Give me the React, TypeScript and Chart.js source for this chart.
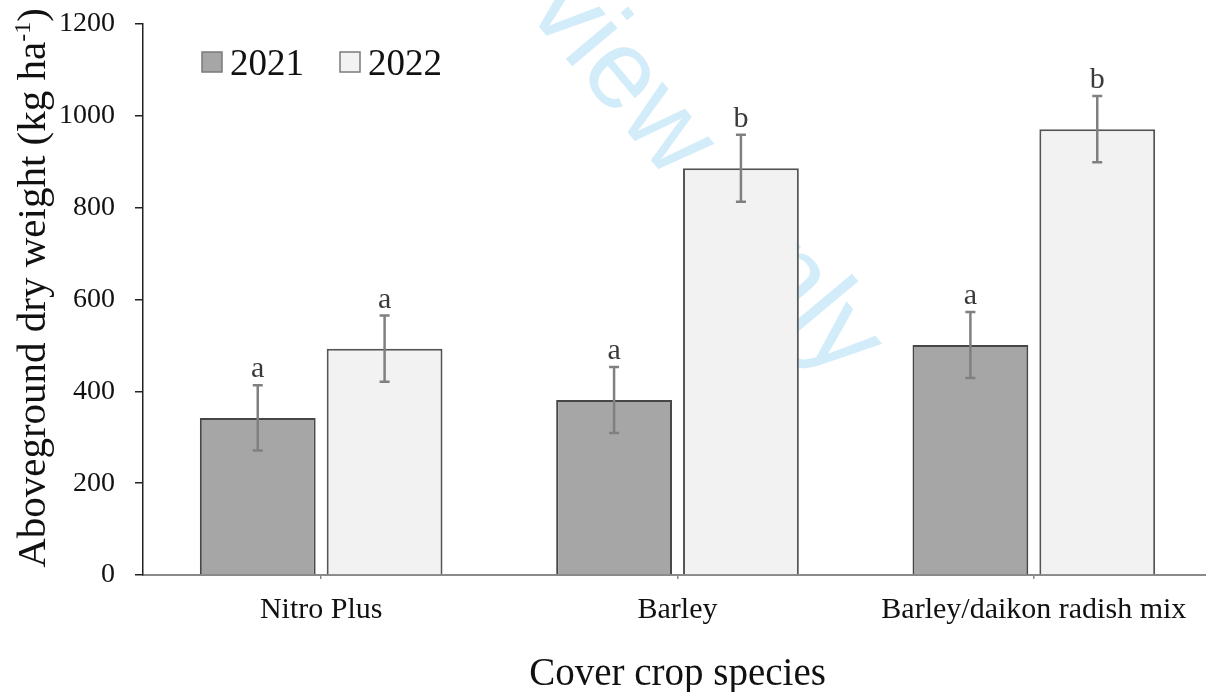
import React, { useEffect, useRef } from 'react';
import { Chart, registerables } from 'chart.js';

Chart.register(...registerables);

// ---- data ----
const categories = ['Nitro Plus', 'Barley', 'Barley/daikon radish mix'];
const seriesLabels = ['2021', '2022'];
const values2021 = [342, 381, 501];
const values2022 = [493, 886, 971];
const errors2021 = [71, 72, 72];
const errors2022 = [72, 73, 72];
const letters2021 = ['a', 'a', 'a'];
const letters2022 = ['a', 'b', 'b'];
const yMin = 0;
const yMax = 1200;
const yStep = 200;
const xTitle = 'Cover crop species';
const yTitleMain = 'Aboveground dry weight (kg ha';
const yTitleSup = '-1';
const yTitleEnd = ')';
const watermark = 'For Review Only';

const SERIF = '"Liberation Serif", "Times New Roman", serif';
const SANS = '"Liberation Sans", Arial, sans-serif';

const fills = ['#a6a6a6', '#f2f2f2'];
const borders = ['#474747', '#555555'];

const errorPlugin = {
  id: 'errorBars',
  afterDatasetsDraw(chart: any) {
    const ctx = chart.ctx;
    const ys = chart.scales.y;
    chart.data.datasets.forEach((ds: any, di: number) => {
      const meta = chart.getDatasetMeta(di);
      meta.data.forEach((bar: any, i: number) => {
        const v = ds.data[i];
        const e = ds.errors[i];
        const yt = ys.getPixelForValue(v + e);
        const yb = ys.getPixelForValue(v - e);
        ctx.save();
        ctx.strokeStyle = '#808080';
        ctx.lineWidth = 2.5;
        ctx.beginPath();
        ctx.moveTo(bar.x, yt);
        ctx.lineTo(bar.x, yb);
        ctx.moveTo(bar.x - 5, yt);
        ctx.lineTo(bar.x + 5, yt);
        ctx.moveTo(bar.x - 5, yb);
        ctx.lineTo(bar.x + 5, yb);
        ctx.stroke();
        ctx.fillStyle = '#3a3a3a';
        ctx.font = `30px ${SERIF}`;
        ctx.textAlign = 'center';
        ctx.textBaseline = 'alphabetic';
        ctx.fillText(ds.letters[i], bar.x, yt - 8);
        ctx.restore();
      });
    });
  },
};

const watermarkPlugin = {
  id: 'watermark',
  beforeDatasetsDraw(chart: any) {
    const ctx = chart.ctx;
    ctx.save();
    ctx.translate(525, 10);
    ctx.rotate((50 * Math.PI) / 180);
    ctx.font = `112px ${SANS}`;
    ctx.fillStyle = '#d2ecfa';
    ctx.textBaseline = 'alphabetic';
    ctx.textAlign = 'left';
    const pre = ctx.measureText('For Re').width;
    ctx.fillText(watermark, -pre, 0);
    ctx.restore();
  },
};

const decorPlugin = {
  id: 'decor',
  afterDraw(chart: any) {
    const ctx = chart.ctx;
    const area = chart.chartArea;
    ctx.save();
    // legend
    const legendItems = chart.data.datasets.map((d: any, i: number) => ({
      label: d.label,
      fill: fills[i],
    }));
    const lx = [area.left + 59, area.left + 197];
    legendItems.forEach((it: any, i: number) => {
      const x = lx[i];
      const y = area.top + 28;
      ctx.fillStyle = it.fill;
      ctx.fillRect(x, y, 20, 20);
      ctx.strokeStyle = '#7a7a7a';
      ctx.lineWidth = 1.5;
      ctx.strokeRect(x, y, 20, 20);
      ctx.fillStyle = '#111';
      ctx.font = `37px ${SERIF}`;
      ctx.textAlign = 'left';
      ctx.textBaseline = 'alphabetic';
      ctx.fillText(it.label, x + 28, y + 23);
    });
    // x title
    ctx.fillStyle = '#111';
    ctx.font = `39px ${SERIF}`;
    ctx.textAlign = 'center';
    ctx.textBaseline = 'alphabetic';
    ctx.fillText(xTitle, (area.left + area.right) / 2, 685);
    // y title
    ctx.save();
    ctx.translate(45, 288);
    ctx.rotate(-Math.PI / 2);
    ctx.textAlign = 'left';
    const mainFont = `41px ${SERIF}`;
    const supFont = `24px ${SERIF}`;
    ctx.font = mainFont;
    const w1 = ctx.measureText(yTitleMain).width;
    const w3 = ctx.measureText(yTitleEnd).width;
    ctx.font = supFont;
    const w2 = ctx.measureText(yTitleSup).width;
    const total = w1 + w2 + w3;
    let x = -total / 2;
    ctx.font = mainFont;
    ctx.fillText(yTitleMain, x, 0);
    x += w1;
    ctx.font = supFont;
    ctx.fillText(yTitleSup, x, -15);
    x += w2;
    ctx.font = mainFont;
    ctx.fillText(yTitleEnd, x, 0);
    ctx.restore();
    ctx.restore();
  },
};

export default function App() {
  const ref = useRef<HTMLCanvasElement | null>(null);
  useEffect(() => {
    document.body.style.overflow = 'hidden';
    const canvas = ref.current;
    if (!canvas) return;
    const chart = new Chart(canvas, {
      type: 'bar',
      data: {
        labels: categories,
        datasets: [
          {
            label: seriesLabels[0],
            data: values2021,
            errors: errors2021,
            letters: letters2021,
            backgroundColor: fills[0],
            borderColor: borders[0],
            borderWidth: 2,
            categoryPercentage: 0.712,
            barPercentage: 0.913,
          } as any,
          {
            label: seriesLabels[1],
            data: values2022,
            errors: errors2022,
            letters: letters2022,
            backgroundColor: fills[1],
            borderColor: borders[1],
            borderWidth: 2,
            categoryPercentage: 0.712,
            barPercentage: 0.913,
          } as any,
        ],
      },
      options: {
        responsive: false,
        animation: false,
        events: [],
        layout: { padding: { top: 24, right: 8, left: 0, bottom: 0 } },
        plugins: {
          legend: { display: false },
          tooltip: { enabled: false },
          title: { display: false },
        },
        scales: {
          x: {
            offset: true,
            grid: {
              offset: false,
              drawOnChartArea: false,
              drawTicks: true,
              tickLength: 4,
              color: '#8a8a8a',
              lineWidth: 1.5,
            },
            border: { display: true, color: '#8a8a8a', width: 2 },
            ticks: {
              color: '#111',
              font: { family: SERIF, size: 30 },
              padding: 13,
              maxRotation: 0,
              autoSkip: false,
            },
            afterFit(scale: any) {
              scale.height = 117;
              scale.paddingLeft = 0;
              scale.paddingRight = 0;
            },
          },
          y: {
            min: yMin,
            max: yMax,
            grid: {
              drawOnChartArea: false,
              drawTicks: true,
              tickLength: 8,
              color: '#222',
              lineWidth: 1.5,
            },
            border: { display: true, color: '#222', width: 1.5 },
            ticks: {
              stepSize: yStep,
              color: '#111',
              font: { family: SERIF, size: 28 },
              padding: 20,
              callback: (v: any) => String(v),
            },
            afterFit(scale: any) {
              scale.width = 143;
              scale.paddingTop = 0;
              scale.paddingBottom = 0;
            },
          },
        },
      } as any,
      plugins: [watermarkPlugin, errorPlugin, decorPlugin],
    });
    return () => chart.destroy();
  }, []);
  return (
    <div style={{ position: 'fixed', left: 0, top: 0, width: 1220, height: 692, background: '#fff' }}>
      <canvas ref={ref} width={1220} height={692} style={{ display: 'block' }} />
    </div>
  );
}
